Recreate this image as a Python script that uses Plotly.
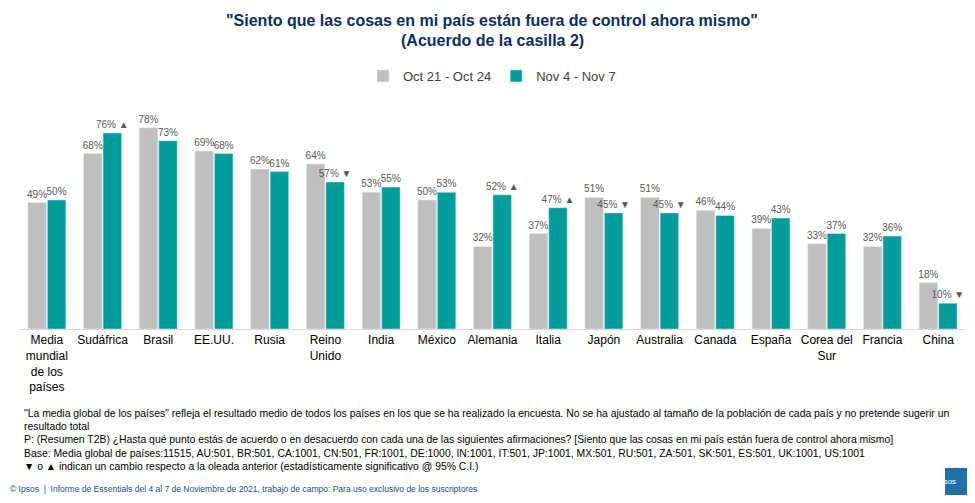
import plotly.graph_objects as go

categories = ["Media<br>mundial<br>de los<br>países", "Sudáfrica", "Brasil", "EE.UU.", "Rusia", "Reino<br>Unido",
              "India", "México", "Alemania", "Italia", "Japón", "Australia", "Canada", "España",
              "Corea del<br>Sur", "Francia", "China"]
oct_vals = [49, 68, 78, 69, 62, 64, 53, 50, 32, 37, 51, 51, 46, 39, 33, 32, 18]
nov_vals = [50, 76, 73, 68, 61, 57, 55, 53, 52, 47, 45, 45, 44, 43, 37, 36, 10]
nov_marks = ["", " ▲", "", "", "", " ▼", "", "", " ▲", " ▲", " ▼", " ▼", "", "", "", "", " ▼"]

OFF = 8  # page offset of the plot div
H = 258.0
def py(y):
    return (329 - y) / H

L, R = 11, 17
W = 975 - L - R
def px(x):
    return (x - OFF - L) / W

fig = go.Figure()
fig.add_bar(x=categories, y=oct_vals, name="Oct 21 - Oct 24", marker_color="#BFBFBF",
            text=[f"{v}%" for v in oct_vals], textposition="outside", cliponaxis=False,
            textfont=dict(size=10, color="#595959"))
fig.add_bar(x=categories, y=nov_vals, name="Nov 4 - Nov 7", marker_color="#009D9A",
            text=[f"{v}%{m}" for v, m in zip(nov_vals, nov_marks)], textposition="outside", cliponaxis=False,
            textfont=dict(size=10, color="#595959"))

foot = [
    (413, "\"La media global de los países\" refleja el resultado medio de todos los países en los que se ha realizado la encuesta. No se ha ajustado al tamaño de la población de cada país y no pretende sugerir un"),
    (426, "resultado total"),
    (440, "P: (Resumen T2B) ¿Hasta qué punto estás de acuerdo o en desacuerdo con cada una de las siguientes afirmaciones? [Siento que las cosas en mi país están fuera de control ahora mismo]"),
    (453, "Base: Media global de países:11515, AU:501, BR:501, CA:1001, CN:501, FR:1001, DE:1000, IN:1001, IT:501, JP:1001, MX:501, RU:501, ZA:501, SK:501, ES:501, UK:1001, US:1001"),
    (466, "▼ o ▲ indican un cambio respecto a la oleada anterior (estadísticamente significativo @ 95% C.I.)"),
]

anns = []
anns.append(dict(text="<b>\"Siento que las cosas en mi país están fuera de control ahora mismo\"</b>",
                 x=px(492), y=py(10), xref="paper", yref="paper", showarrow=False,
                 font=dict(size=16, color="#0D2E5F")))
anns.append(dict(text="<b>(Acuerdo de la casilla 2)</b>",
                 x=px(492), y=py(30), xref="paper", yref="paper", showarrow=False,
                 font=dict(size=16, color="#0D2E5F")))
for y, t in foot:
    anns.append(dict(text=t, x=px(22), xref="paper", y=py(y), yref="paper", xanchor="left", yanchor="middle",
                     showarrow=False, font=dict(size=10.4, color="#000000")))
anns.append(dict(text="© Ipsos  |  Informe de Essentials del 4 al 7 de Noviembre de 2021, trabajo de campo: Para uso exclusivo de los suscriptores",
                 x=px(8), xref="paper", y=py(489), yref="paper", xanchor="left", yanchor="middle",
                 showarrow=False, font=dict(size=8.5, color="#1F4E79")))
anns.append(dict(text="Ipsos", x=px(957.5), y=py(488), xref="paper", yref="paper",
                 showarrow=False, font=dict(size=8, color="white")))

fig.update_layout(
    width=975, height=503,
    margin=dict(l=L, r=R, t=71 - OFF, b=503 - 329 + OFF, autoexpand=False),
    paper_bgcolor="white", plot_bgcolor="white",
    font=dict(family="Liberation Sans, Arial", color="#000000"),
    legend=dict(orientation="h", x=px(492), xanchor="center", y=py(76), yanchor="middle",
                font=dict(size=13, color="#404040")),
    barmode="group", bargap=0.3, bargroupgap=0.05,
    uniformtext=dict(minsize=10, mode="show"),
    yaxis=dict(range=[0, 100], visible=False),
    xaxis=dict(tickfont=dict(size=12, color="#000000"), showline=True, linecolor="#D9D9D9",
               ticks="", showgrid=False, automargin=False),
    annotations=anns,
    shapes=[dict(type="rect", xref="paper", yref="paper", x0=px(945), x1=px(970),
                 y0=py(495), y1=py(468), fillcolor="#1F6FA8", line_width=0)],
)
fig.write_html("out.html")
